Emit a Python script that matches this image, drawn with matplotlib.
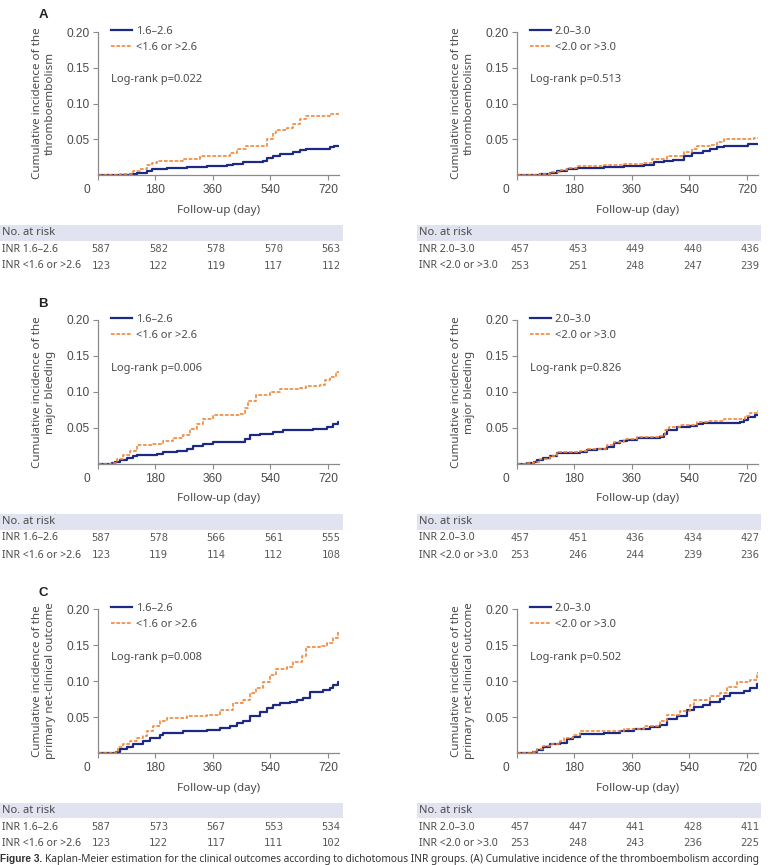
import matplotlib
matplotlib.use('Agg')
import matplotlib.pyplot as plt
from matplotlib import transforms
from matplotlib.patches import Rectangle

# ---------------- data ----------------
xticks = [0, 180, 360, 540, 720]
yticks = [0.05, 0.10, 0.15, 0.20]
risk_days = [0, 180, 360, 540, 720]

# Panel A  (thromboembolism)
a1_blue_t = [100, 121, 152, 170, 184, 215, 278, 340, 403, 424, 455, 518, 528, 549, 570, 612, 632, 653, 726, 740]
a1_blue_y = [0.002, 0.003, 0.005, 0.008, 0.009, 0.010, 0.011, 0.013, 0.014, 0.016, 0.018, 0.020, 0.024, 0.027, 0.030, 0.032, 0.035, 0.037, 0.039, 0.040]
a1_or_t = [69, 90, 111, 131, 152, 170, 184, 215, 267, 319, 392, 413, 434, 465, 518, 528, 549, 559, 591, 612, 632, 653, 721, 726]
a1_or_y = [0.001, 0.002, 0.005, 0.009, 0.014, 0.017, 0.019, 0.020, 0.022, 0.026, 0.027, 0.031, 0.036, 0.040, 0.041, 0.050, 0.059, 0.063, 0.066, 0.071, 0.078, 0.082, 0.083, 0.086]
a2_blue_t = [73, 104, 125, 157, 188, 271, 334, 397, 428, 459, 490, 522, 548, 584, 605, 626, 647, 725]
a2_blue_y = [0.001, 0.003, 0.005, 0.008, 0.010, 0.011, 0.013, 0.014, 0.018, 0.020, 0.021, 0.026, 0.031, 0.033, 0.036, 0.039, 0.041, 0.043]
a2_or_t = [73, 104, 136, 157, 188, 271, 334, 397, 423, 470, 522, 548, 563, 605, 626, 647, 741]
a2_or_y = [0.001, 0.004, 0.007, 0.010, 0.012, 0.014, 0.015, 0.017, 0.022, 0.026, 0.032, 0.037, 0.040, 0.042, 0.046, 0.050, 0.052]

# Panel B  (major bleeding)
b1_blue_t = [45, 53, 69, 90, 111, 121, 184, 205, 246, 278, 298, 330, 361, 445, 460, 476, 507, 549, 580, 674, 695, 716, 737, 752]
b1_blue_y = [0.001, 0.003, 0.006, 0.008, 0.011, 0.013, 0.014, 0.016, 0.018, 0.021, 0.025, 0.028, 0.030, 0.031, 0.035, 0.040, 0.042, 0.045, 0.047, 0.048, 0.049, 0.052, 0.056, 0.059]
b1_or_t = [43, 58, 79, 100, 121, 173, 205, 236, 267, 288, 309, 330, 361, 445, 460, 471, 496, 538, 570, 632, 653, 695, 711, 726, 747]
b1_or_y = [0.002, 0.007, 0.012, 0.018, 0.027, 0.028, 0.032, 0.036, 0.040, 0.048, 0.056, 0.063, 0.068, 0.069, 0.078, 0.087, 0.096, 0.100, 0.104, 0.106, 0.109, 0.110, 0.116, 0.121, 0.128]
b2_blue_t = [31, 52, 63, 83, 104, 125, 198, 219, 250, 282, 303, 323, 344, 376, 449, 459, 470, 501, 543, 563, 584, 699, 710, 725, 746]
b2_blue_y = [0.001, 0.003, 0.006, 0.008, 0.011, 0.015, 0.017, 0.020, 0.021, 0.024, 0.029, 0.032, 0.034, 0.036, 0.037, 0.041, 0.047, 0.051, 0.053, 0.055, 0.057, 0.058, 0.061, 0.065, 0.068]
b2_or_t = [31, 52, 73, 104, 125, 198, 219, 282, 303, 334, 376, 449, 465, 475, 511, 563, 595, 647, 699, 715, 731, 751]
b2_or_y = [0.001, 0.003, 0.007, 0.011, 0.016, 0.018, 0.021, 0.026, 0.030, 0.035, 0.038, 0.039, 0.047, 0.051, 0.054, 0.058, 0.060, 0.062, 0.063, 0.066, 0.071, 0.073]

# Panel C  (primary net-clinical outcome)
c1_blue_t = [55, 69, 90, 111, 142, 163, 194, 205, 267, 340, 382, 413, 434, 455, 476, 507, 528, 549, 570, 601, 622, 643, 664, 705, 726, 737, 752]
c1_blue_y = [0.002, 0.005, 0.009, 0.012, 0.016, 0.021, 0.025, 0.028, 0.030, 0.032, 0.035, 0.038, 0.041, 0.045, 0.051, 0.057, 0.063, 0.067, 0.069, 0.071, 0.074, 0.077, 0.085, 0.087, 0.090, 0.094, 0.098]
c1_or_t = [55, 64, 79, 100, 121, 142, 152, 173, 194, 215, 278, 340, 382, 424, 455, 476, 496, 518, 538, 559, 591, 612, 638, 653, 695, 716, 737, 752]
c1_or_y = [0.003, 0.008, 0.013, 0.017, 0.021, 0.024, 0.031, 0.038, 0.045, 0.048, 0.051, 0.053, 0.060, 0.069, 0.074, 0.084, 0.090, 0.099, 0.108, 0.117, 0.120, 0.126, 0.135, 0.147, 0.149, 0.153, 0.160, 0.168]
c2_blue_t = [50, 63, 83, 104, 136, 157, 177, 198, 271, 323, 365, 417, 449, 470, 501, 532, 553, 584, 605, 637, 647, 668, 710, 731, 751]
c2_blue_y = [0.002, 0.004, 0.009, 0.012, 0.014, 0.019, 0.022, 0.027, 0.028, 0.030, 0.033, 0.036, 0.039, 0.047, 0.052, 0.060, 0.064, 0.067, 0.071, 0.075, 0.079, 0.084, 0.086, 0.090, 0.096]
c2_or_t = [50, 63, 83, 104, 136, 146, 177, 198, 271, 334, 397, 449, 470, 511, 543, 553, 605, 637, 658, 689, 731, 751]
c2_or_y = [0.002, 0.005, 0.010, 0.013, 0.016, 0.021, 0.025, 0.030, 0.031, 0.034, 0.038, 0.044, 0.053, 0.059, 0.066, 0.073, 0.079, 0.084, 0.091, 0.098, 0.102, 0.111]

legend_left = ["1.6\u20132.6", "<1.6 or >2.6"]
legend_right = ["2.0\u20133.0", "<2.0 or >3.0"]
risk_labels_left = ["INR 1.6\u20132.6", "INR <1.6 or >2.6"]
risk_labels_right = ["INR 2.0\u20133.0", "INR <2.0 or >3.0"]

pvals = {"A1": "0.022", "A2": "0.513", "B1": "0.006", "B2": "0.826", "C1": "0.008", "C2": "0.502"}

risk_A1 = [[587, 582, 578, 570, 563], [123, 122, 119, 117, 112]]
risk_A2 = [[457, 453, 449, 440, 436], [253, 251, 248, 247, 239]]
risk_B1 = [[587, 578, 566, 561, 555], [123, 119, 114, 112, 108]]
risk_B2 = [[457, 451, 436, 434, 427], [253, 246, 244, 239, 236]]
risk_C1 = [[587, 573, 567, 553, 534], [123, 122, 117, 111, 102]]
risk_C2 = [[457, 447, 441, 428, 411], [253, 248, 243, 236, 225]]

ylabels = {"A": "Cumulative incidence of the\nthromboembolism",
           "B": "Cumulative incidence of the\nmajor bleeding",
           "C": "Cumulative incidence of the\nprimary net-clinical outcome"}

caption_bold = "Figure 3."
caption_text = ("Kaplan-Meier estimation for the clinical outcomes according to dichotomous INR groups. "
                "(A) Cumulative incidence of the thromboembolism according")

# ---------------- style ----------------
W, H = 773, 865
BLUE = "#1c2a85"
ORANGE = "#f0873a"
AXC = "#8a8a8a"
TXT = "#4a4a4a"
BAND = "#e2e3f0"
SANS = ["Noto Sans", "DejaVu Sans"]
TICKF = ["Liberation Sans", "DejaVu Sans"]
BOLDF = ["Liberation Sans", "DejaVu Sans"]
MONO = ["DejaVu Sans Mono"]
XMAX = 755

fig = plt.figure(figsize=(W / 100, H / 100), dpi=100)


def fx(x):
    return x / W


def fy(y):
    return 1 - y / H


def steps(t, y):
    tt = [0] + list(t) + [XMAX]
    yy = [0] + list(y) + [y[-1]]
    return tt, yy


panels = [
    ("A1", "A", 98, 32, 175, (a1_blue_t, a1_blue_y, a1_or_t, a1_or_y), legend_left, risk_A1, risk_labels_left, 0, 343, (225, 241), (249, 266)),
    ("A2", "A", 517, 32, 175, (a2_blue_t, a2_blue_y, a2_or_t, a2_or_y), legend_right, risk_A2, risk_labels_right, 417, 761, (225, 241), (249, 266)),
    ("B1", "B", 98, 320, 464, (b1_blue_t, b1_blue_y, b1_or_t, b1_or_y), legend_left, risk_B1, risk_labels_left, 0, 343, (514, 530), (538, 555)),
    ("B2", "B", 517, 320, 464, (b2_blue_t, b2_blue_y, b2_or_t, b2_or_y), legend_right, risk_B2, risk_labels_right, 417, 761, (514, 530), (538, 555)),
    ("C1", "C", 98, 609, 753, (c1_blue_t, c1_blue_y, c1_or_t, c1_or_y), legend_left, risk_C1, risk_labels_left, 0, 343, (803, 818), (827, 843)),
    ("C2", "C", 517, 609, 753, (c2_blue_t, c2_blue_y, c2_or_t, c2_or_y), legend_right, risk_C2, risk_labels_right, 417, 761, (803, 818), (827, 843)),
]
letter_y = {"A": 15, "B": 304, "C": 593}

for (key, letter, lpx, tpx, bpx, series, leg, risk, rlabels, bx0, bx1, band, rows) in panels:
    ax = fig.add_axes([fx(lpx), fy(bpx), 241 / W, (bpx - tpx) / H])
    bt, by, ot, oy = series
    t, y = steps(bt, by)
    ax.step(t, y, where="post", color=BLUE, lw=1.6, label=leg[0])
    t, y = steps(ot, oy)
    ax.step(t, y, where="post", color=ORANGE, lw=1.2, dashes=(2.2, 1.0), label=leg[1])
    ax.set_xlim(0, XMAX)
    ax.set_ylim(0, 0.20)
    ax.set_xticks(xticks)
    ax.set_xticklabels([str(v) for v in xticks])
    ax.set_yticks(yticks)
    ax.set_yticklabels(["%.2f" % v for v in yticks])
    for s in ("top", "right"):
        ax.spines[s].set_visible(False)
    for s in ("left", "bottom"):
        ax.spines[s].set_color(AXC)
        ax.spines[s].set_linewidth(0.9)
    ax.tick_params(axis="both", colors=AXC, length=3.3, width=0.8, pad=3,
                   labelcolor=TXT, labelsize=8.6)
    for lab in ax.get_xticklabels() + ax.get_yticklabels():
        lab.set_fontfamily(TICKF)
    zl = ax.get_xticklabels()[0]
    zl.set_transform(zl.get_transform() + transforms.ScaledTranslation(-0.11, 0, fig.dpi_scale_trans))
    ax.set_xlabel("Follow-up (day)", fontsize=8.4, color=TXT, family=SANS, va="center")
    ax.xaxis.set_label_coords(0.5, -35 / (bpx - tpx))
    ax.set_ylabel(ylabels[letter], fontsize=8.4, color=TXT, family=SANS, va="center",
                  linespacing=1.25)
    ax.yaxis.set_label_coords(-0.225, 0.5)
    lg = ax.legend(loc="upper left", bbox_to_anchor=(0.052, 1.045), frameon=False,
                   handlelength=1.9, handletextpad=0.35, labelspacing=0.45,
                   borderpad=0, borderaxespad=0,
                   prop={"family": SANS, "size": 8})
    for txt in lg.get_texts():
        txt.set_color(TXT)
    ax.text(0.054, 0.665, "Log-rank p=" + pvals[key], transform=ax.transAxes,
            fontsize=8, color=TXT, family=SANS, va="center", ha="left")
    if key.endswith("1"):
        fig.text(fx(43), fy(letter_y[letter]), letter,
                 fontsize=9.5, fontweight="bold", color="#222222", family=BOLDF,
                 ha="center", va="center")

    # risk table
    fig.patches.append(Rectangle((fx(bx0), fy(band[1])), (bx1 - bx0) / W, (band[1] - band[0]) / H,
                                 transform=fig.transFigure, facecolor=BAND, edgecolor="none", zorder=0))
    fig.text(fx(bx0 + 2), fy((band[0] + band[1]) / 2), "No. at risk", fontsize=8,
             color=TXT, family=SANS, va="center", ha="left")
    blend = transforms.blended_transform_factory(ax.transData, fig.transFigure)
    for r, ypx in enumerate(rows):
        fig.text(fx(bx0 + 2), fy(ypx), rlabels[r], fontsize=7.6, color=TXT, family=SANS,
                 va="center", ha="left")
        for d, n in zip(risk_days, risk[r]):
            fig.text(d + 10, fy(ypx), str(n), transform=blend, fontsize=7.6, color="#5a5a5a",
                     family=MONO, va="center", ha="center")

# caption (sits on the bottom edge, as in the original)
cap1 = fig.text(0.0, fy(862), caption_bold, fontsize=7.3, fontweight="bold", color="#333333",
                family=BOLDF, va="baseline", ha="left")
fig.canvas.draw()
bb = cap1.get_window_extent()
fig.text(bb.x1 / W + 0.004, fy(862), caption_text,
         fontsize=7.3, color="#333333", family=SANS, va="baseline", ha="left")

fig.savefig("out.png", dpi=100)
